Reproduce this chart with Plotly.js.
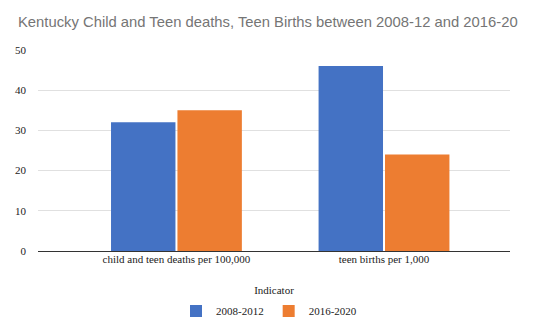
<!DOCTYPE html>
<html>
<head>
<meta charset="utf-8">
<script src="https://cdn.plot.ly/plotly-3.0.1.min.js"></script>
<style>html,body{margin:0;padding:0;background:#fff;}#chart{width:538px;height:333px;}</style>
</head>
<body>
<div id="chart"></div>
<script>
var categories = ["child and teen deaths per 100,000", "teen births per 1,000"];
var seriesNames = ["2008-2012", "2016-2020"];
var values2008 = [32, 46];
var values2016 = [35, 24];
var yTicks = [0, 10, 20, 30, 40, 50];

var serif = "Liberation Serif, Times New Roman, serif";
var data = [
  {type: "bar", name: seriesNames[0], x: categories, y: values2008, marker: {color: "#4472c4"}},
  {type: "bar", name: seriesNames[1], x: categories, y: values2016, marker: {color: "#ed7d31"}}
];
var layout = {
  width: 538, height: 333,
  margin: {l: 38, r: 28, t: 50, b: 82},
  paper_bgcolor: "#fff", plot_bgcolor: "#fff",
  barmode: "group", bargap: 0.36, bargroupgap: 0.03,
  title: {text: "Kentucky Child and Teen deaths, Teen Births between 2008-12 and 2016-20",
    font: {family: "Liberation Sans, Arial, sans-serif", size: 14.8, color: "#757575"},
    x: 18/538, xref: "container", xanchor: "left", y: 1, yref: "container", yanchor: "top", pad: {t: 17}},
  xaxis: {
    type: "category", range: [-0.667, 1.607], showgrid: false, showline: false, zeroline: false,
    automargin: false,
    ticks: "", tickfont: {family: serif, size: 11, color: "#222"},
    title: {text: "Indicator", font: {family: serif, size: 11, color: "#222"}, standoff: 22}
  },
  yaxis: {
    range: [0, 50], tickvals: yTicks, showgrid: true, gridcolor: "#e0e0e0", gridwidth: 1,
    zeroline: true, zerolinecolor: "#333", zerolinewidth: 1, showline: false, automargin: false,
    ticks: "", ticklabelstandoff: 11, tickfont: {family: serif, size: 11, color: "#222"}
  },
  showlegend: true,
  legend: {orientation: "h", x: 0.5, xanchor: "center", xref: "container",
    y: 1 - 311/333, yanchor: "middle", yref: "container",
    font: {family: serif, size: 11, color: "#222"}, itemwidth: 30}
};
Plotly.newPlot("chart", data, layout, {displayModeBar: false, staticPlot: true});
</script>
</body>
</html>
